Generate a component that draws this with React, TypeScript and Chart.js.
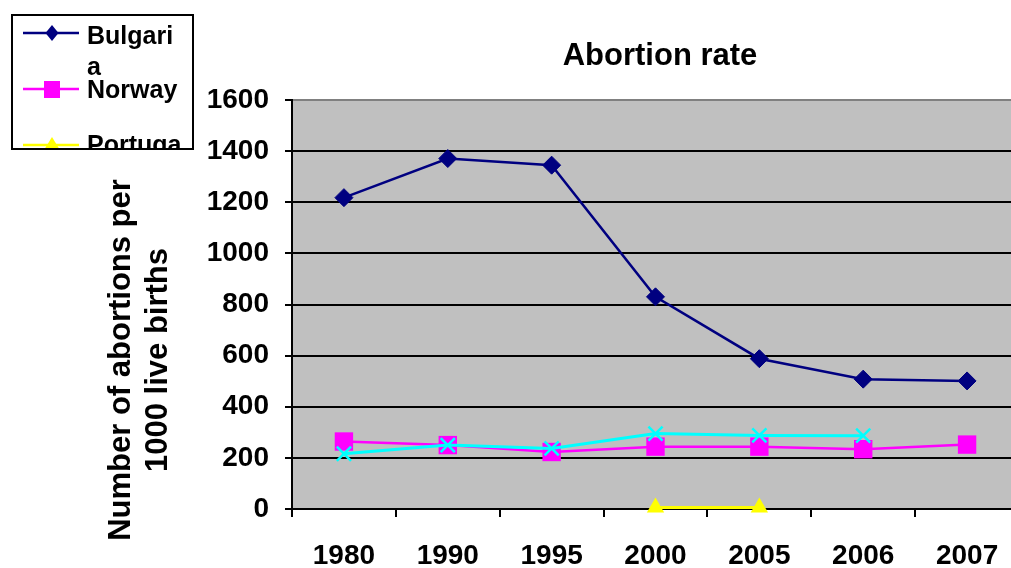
import React, { useEffect, useRef } from 'react';
import { Chart, registerables } from 'chart.js';

Chart.register(...registerables);

const FONT = "'Liberation Sans', Arial, Helvetica, sans-serif";

const titleText = 'Abortion rate';
const yTitleLines = ['Number of abortions per', '1000 live births'];
const categories = ['1980', '1990', '1995', '2000', '2005', '2006', '2007'];
const bulgaria = [1218, 1371, 1345, 830, 588, 508, 501];
const norway = [264, 250, 223, 244, 244, 234, 252];
const cyanSeries = [216, 250, 237, 295, 288, 287, null];
const portugal = [null, null, null, 6, 6, null, null];
const yMin = 0;
const yMax = 1600;
const yStep = 200;
const legendLines = [['Bulgari', 'a'], ['Norway'], ['Portuga']];

const COLORS = {
  bulgaria: '#000080',
  norway: '#FF00FF',
  cyan: '#00FFFF',
  portugal: '#FFFF00',
  plotBg: '#C0C0C0',
};

const bgPlugin = {
  id: 'plotBg',
  beforeDraw(chart: any) {
    const { ctx, chartArea } = chart;
    ctx.save();
    ctx.fillStyle = COLORS.plotBg;
    ctx.fillRect(chartArea.left, chartArea.top, chartArea.right - chartArea.left, chartArea.bottom - chartArea.top);
    ctx.restore();
  },
};

const textPlugin = {
  id: 'customText',
  afterDraw(chart: any) {
    const ctx = chart.ctx as CanvasRenderingContext2D;
    ctx.save();
    // Title
    ctx.fillStyle = '#000';
    ctx.font = `bold 31px ${FONT}`;
    ctx.textAlign = 'center';
    ctx.textBaseline = 'alphabetic';
    ctx.fillText(titleText, 660, 65);

    // Y axis title
    ctx.font = `bold 31px ${FONT}`;
    const baselines = [130, 167];
    yTitleLines.forEach((line, i) => {
      ctx.save();
      ctx.translate(baselines[i], 360);
      ctx.rotate(-Math.PI / 2);
      ctx.textAlign = 'center';
      ctx.textBaseline = 'alphabetic';
      ctx.fillText(line, 0, 0);
      ctx.restore();
    });

    // Legend
    const bx = 12, by = 15, bw = 181, bh = 134;
    ctx.save();
    ctx.fillStyle = '#fff';
    ctx.fillRect(bx, by, bw, bh);
    ctx.beginPath();
    ctx.rect(bx, by, bw, bh);
    ctx.clip();

    const lineX0 = 23, lineX1 = 79, mx = 52;
    // Bulgaria
    ctx.strokeStyle = COLORS.bulgaria;
    ctx.lineWidth = 2.5;
    ctx.beginPath();
    ctx.moveTo(lineX0, 33);
    ctx.lineTo(lineX1, 33);
    ctx.stroke();
    ctx.fillStyle = COLORS.bulgaria;
    ctx.beginPath();
    ctx.moveTo(mx, 25);
    ctx.lineTo(mx + 6.5, 33);
    ctx.lineTo(mx, 41);
    ctx.lineTo(mx - 6.5, 33);
    ctx.closePath();
    ctx.fill();
    // Norway
    ctx.strokeStyle = COLORS.norway;
    ctx.beginPath();
    ctx.moveTo(lineX0, 89);
    ctx.lineTo(lineX1, 89);
    ctx.stroke();
    ctx.fillStyle = COLORS.norway;
    ctx.fillRect(mx - 8, 81, 16, 17);
    // Portugal
    ctx.strokeStyle = COLORS.portugal;
    ctx.lineWidth = 2.5;
    ctx.beginPath();
    ctx.moveTo(lineX0, 145);
    ctx.lineTo(lineX1, 145);
    ctx.stroke();
    ctx.fillStyle = COLORS.portugal;
    ctx.beginPath();
    ctx.moveTo(mx, 137);
    ctx.lineTo(mx + 8, 150);
    ctx.lineTo(mx - 8, 150);
    ctx.closePath();
    ctx.fill();

    ctx.fillStyle = '#000';
    ctx.font = `bold 25px ${FONT}`;
    ctx.textAlign = 'left';
    ctx.textBaseline = 'alphabetic';
    ctx.fillText(legendLines[0][0], 87, 44);
    ctx.fillText(legendLines[0][1], 87, 75);
    ctx.fillText(legendLines[1][0], 87, 98);
    ctx.fillText(legendLines[2][0], 87, 153);
    ctx.restore();

    ctx.strokeStyle = '#000';
    ctx.lineWidth = 2;
    ctx.strokeRect(bx, by, bw, bh);
    ctx.restore();
  },
};

export default function App() {
  const canvasRef = useRef<HTMLCanvasElement | null>(null);

  useEffect(() => {
    const canvas = canvasRef.current;
    if (!canvas) return;
    const tickFont = { family: FONT, size: 28, weight: 'bold' as const };
    const chart = new Chart(canvas, {
      type: 'line',
      data: {
        labels: categories,
        datasets: [
          {
            label: 'Bulgaria',
            data: bulgaria,
            borderColor: COLORS.bulgaria,
            backgroundColor: COLORS.bulgaria,
            borderWidth: 2.5,
            pointStyle: 'rectRot',
            pointRadius: 9,
            pointBorderWidth: 1,
            tension: 0,
            order: 3,
          },
          {
            label: 'Norway',
            data: norway,
            borderColor: COLORS.norway,
            backgroundColor: COLORS.norway,
            borderWidth: 2.5,
            pointStyle: 'rect',
            pointRadius: 13,
            pointBorderWidth: 0,
            tension: 0,
            order: 2,
          },
          {
            label: 'Portugal',
            data: portugal,
            borderColor: COLORS.portugal,
            backgroundColor: COLORS.portugal,
            borderWidth: 3,
            pointStyle: 'triangle',
            pointRadius: 10,
            pointBorderWidth: 0,
            tension: 0,
            spanGaps: false,
            clip: false,
            order: 1,
          },
          {
            label: 'Series 4',
            data: cyanSeries,
            borderColor: COLORS.cyan,
            backgroundColor: COLORS.cyan,
            borderWidth: 3,
            pointStyle: 'crossRot',
            pointRadius: 10,
            pointBorderWidth: 2.5,
            tension: 0,
            order: 0,
          },
        ],
      },
      options: {
        responsive: false,
        animation: false,
        devicePixelRatio: 1,
        layout: { padding: { top: 100, right: 2, left: 0, bottom: 0 } },
        plugins: {
          legend: { display: false },
          tooltip: { enabled: false },
          title: { display: false },
        },
        scales: {
          x: {
            type: 'category',
            offset: true,
            grid: {
              offset: true,
              drawOnChartArea: false,
              drawTicks: true,
              tickLength: 8,
              color: '#000',
              lineWidth: 2,
            },
            border: { display: true, color: '#000', width: 2 },
            ticks: {
              font: tickFont,
              color: '#000',
              padding: 22,
              maxRotation: 0,
              autoSkip: false,
            },
            afterFit: (s: any) => {
              s.height = 59;
              s.paddingLeft = 0;
              s.paddingRight = 0;
            },
          },
          y: {
            min: yMin,
            max: yMax,
            ticks: {
              stepSize: yStep,
              font: tickFont,
              color: '#000',
              padding: 16,
              callback: (v: any) => String(v),
            },
            grid: {
              color: (c: any) => (c.tick && c.tick.value === yMax ? '#808080' : '#000'),
              lineWidth: 2,
              tickLength: 7,
              tickColor: '#000',
              drawTicks: true,
            },
            border: { display: true, color: '#000', width: 2 },
            afterFit: (s: any) => {
              s.width = 292;
            },
          },
        },
      },
      plugins: [bgPlugin, textPlugin],
    });
    return () => chart.destroy();
  }, []);

  return (
    <div
      style={{
        position: 'fixed',
        left: 0,
        top: 0,
        width: 1011,
        height: 568,
        overflow: 'hidden',
        background: '#fff',
      }}
    >
      <canvas ref={canvasRef} width={1032} height={568} style={{ display: 'block' }} />
    </div>
  );
}
